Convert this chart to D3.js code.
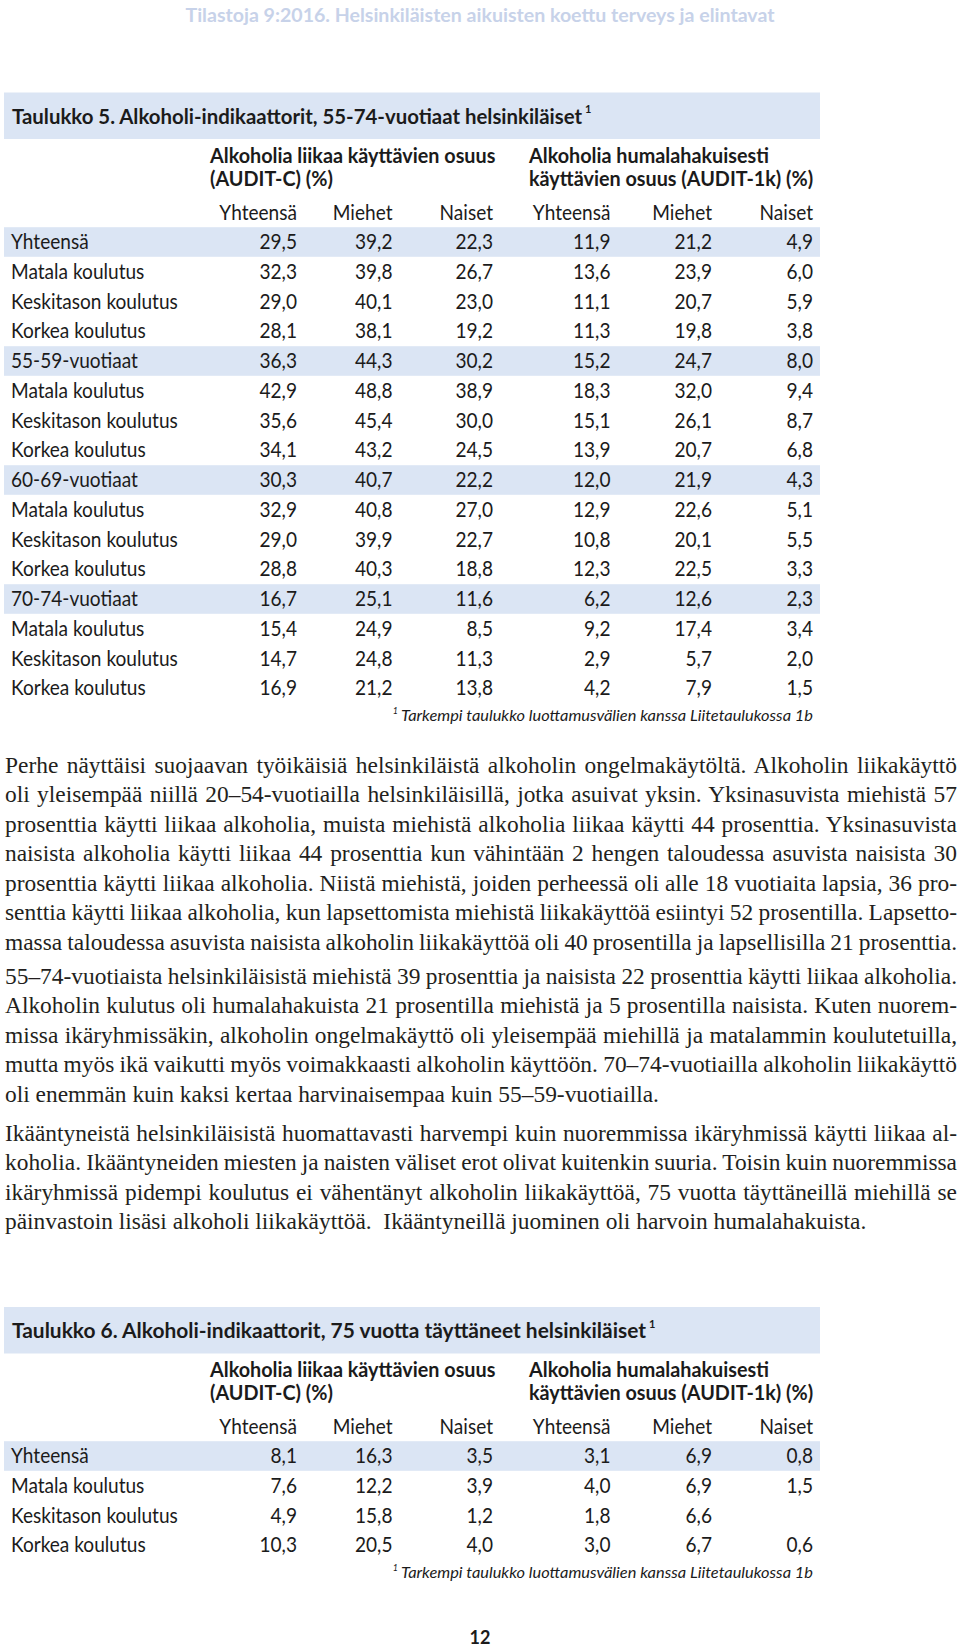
<!DOCTYPE html>
<html><head><meta charset="utf-8">
<script src="https://cdn.jsdelivr.net/npm/d3@7/dist/d3.min.js"></script>
<style>
html,body{margin:0;padding:0;background:#fff;}
svg{display:block;}
text{white-space:pre;}
</style></head>
<body>
<div id="chart"></div>
<script>
// ---------------- DATA ----------------
const pageHeader = "Tilastoja 9:2016. Helsinkiläisten aikuisten koettu terveys ja elintavat";
const groupHeaderC = ["Alkoholia liikaa käyttävien osuus", "(AUDIT-C) (%)"];
const groupHeader1k = ["Alkoholia humalahakuisesti", "käyttävien osuus (AUDIT-1k) (%)"];
const subHeaders = ["Yhteensä", "Miehet", "Naiset", "Yhteensä", "Miehet", "Naiset"];
const footnote = "Tarkempi taulukko luottamusvälien kanssa Liitetaulukossa 1b";

const t5Title = "Taulukko 5. Alkoholi-indikaattorit, 55-74-vuotiaat helsinkiläiset";
const t5Rows = ["Yhteensä","Matala koulutus","Keskitason koulutus","Korkea koulutus",
  "55-59-vuotiaat","Matala koulutus","Keskitason koulutus","Korkea koulutus",
  "60-69-vuotiaat","Matala koulutus","Keskitason koulutus","Korkea koulutus",
  "70-74-vuotiaat","Matala koulutus","Keskitason koulutus","Korkea koulutus"];
const t5Highlight = [0, 4, 8, 12];
const t5AuditCTotal = [29.5,32.3,29.0,28.1,36.3,42.9,35.6,34.1,30.3,32.9,29.0,28.8,16.7,15.4,14.7,16.9];
const t5AuditCMen   = [39.2,39.8,40.1,38.1,44.3,48.8,45.4,43.2,40.7,40.8,39.9,40.3,25.1,24.9,24.8,21.2];
const t5AuditCWomen = [22.3,26.7,23.0,19.2,30.2,38.9,30.0,24.5,22.2,27.0,22.7,18.8,11.6,8.5,11.3,13.8];
const t5Audit1kTotal = [11.9,13.6,11.1,11.3,15.2,18.3,15.1,13.9,12.0,12.9,10.8,12.3,6.2,9.2,2.9,4.2];
const t5Audit1kMen   = [21.2,23.9,20.7,19.8,24.7,32.0,26.1,20.7,21.9,22.6,20.1,22.5,12.6,17.4,5.7,7.9];
const t5Audit1kWomen = [4.9,6.0,5.9,3.8,8.0,9.4,8.7,6.8,4.3,5.1,5.5,3.3,2.3,3.4,2.0,1.5];

const t6Title = "Taulukko 6. Alkoholi-indikaattorit, 75 vuotta täyttäneet helsinkiläiset";
const t6Rows = ["Yhteensä","Matala koulutus","Keskitason koulutus","Korkea koulutus"];
const t6Highlight = [0];
const t6AuditCTotal = [8.1,7.6,4.9,10.3];
const t6AuditCMen   = [16.3,12.2,15.8,20.5];
const t6AuditCWomen = [3.5,3.9,1.2,4.0];
const t6Audit1kTotal = [3.1,4.0,1.8,3.0];
const t6Audit1kMen   = [6.9,6.9,6.6,6.7];
const t6Audit1kWomen = [0.8,1.5,null,0.6];

const paragraph1 = [
"Perhe näyttäisi suojaavan työikäisiä helsinkiläistä alkoholin ongelmakäytöltä. Alkoholin liikakäyttö",
"oli yleisempää niillä 20–54-vuotiailla helsinkiläisillä, jotka asuivat yksin. Yksinasuvista miehistä 57",
"prosenttia käytti liikaa alkoholia, muista miehistä alkoholia liikaa käytti 44 prosenttia. Yksinasuvista",
"naisista alkoholia käytti liikaa 44 prosenttia kun vähintään 2 hengen taloudessa asuvista naisista 30",
"prosenttia käytti liikaa alkoholia. Niistä miehistä, joiden perheessä oli alle 18 vuotiaita lapsia, 36 pro-",
"senttia käytti liikaa alkoholia, kun lapsettomista miehistä liikakäyttöä esiintyi 52 prosentilla. Lapsetto-",
"massa taloudessa asuvista naisista alkoholin liikakäyttöä oli 40 prosentilla ja lapsellisilla 21 prosenttia."
];
const paragraph2 = [
"55–74-vuotiaista helsinkiläisistä miehistä 39 prosenttia ja naisista 22 prosenttia käytti liikaa alkoholia.",
"Alkoholin kulutus oli humalahakuista 21 prosentilla miehistä ja 5 prosentilla naisista. Kuten nuorem-",
"missa ikäryhmissäkin, alkoholin ongelmakäyttö oli yleisempää miehillä ja matalammin koulutetuilla,",
"mutta myös ikä vaikutti myös voimakkaasti alkoholin käyttöön. 70–74-vuotiailla alkoholin liikakäyttö",
"oli enemmän kuin kaksi kertaa harvinaisempaa kuin 55–59-vuotiailla."
];
const paragraph3 = [
"Ikääntyneistä helsinkiläisistä huomattavasti harvempi kuin nuoremmissa ikäryhmissä käytti liikaa al-",
"koholia. Ikääntyneiden miesten ja naisten väliset erot olivat kuitenkin suuria. Toisin kuin nuoremmissa",
"ikäryhmissä pidempi koulutus ei vähentänyt alkoholin liikakäyttöä, 75 vuotta täyttäneillä miehillä se",
"päinvastoin lisäsi alkoholi liikakäyttöä.  Ikääntyneillä juominen oli harvoin humalahakuista."
];
const pageNumber = "12";

// ---------------- RENDER ----------------
const W = 960, H = 1649;
const BAND = "#dbe5f4";
const INK = "#1b1b1b";
const SANS = "Lato, 'Open Sans', sans-serif";
const SERIF = "'Liberation Serif', 'DejaVu Serif', serif";
const FS = 20.5;
const fi = d3.formatLocale({decimal: ",", thousands: " ", grouping: [3], currency: ["", ""]});
const fmt = v => (v == null ? "" : fi.format(".1f")(v));

const svg = d3.select("#chart").append("svg").attr("width", W).attr("height", H)
  .attr("viewBox", `0 0 ${W} ${H}`);

// horizontal compression to mimic the narrow original sans face
const SQUEEZE = 0.93;
function squeeze(sel, k) {
  sel.each(function () {
    const n = this.getComputedTextLength();
    if (n > 0) d3.select(this).attr("textLength", n * (k || SQUEEZE)).attr("lengthAdjust", "spacingAndGlyphs");
  });
}

// page header
svg.append("text").attr("x", 480).attr("y", 15).attr("dy", "0.35em")
  .attr("text-anchor", "middle").attr("font-family", SANS).attr("font-weight", 700)
  .attr("font-size", 19).attr("fill", "#c7d2e9").text(pageHeader)
  .call(s => s.attr("textLength", 589).attr("lengthAdjust", "spacingAndGlyphs"));

const colKeys = ["cT", "cM", "cW", "kT", "kM", "kW"];
const colX = d3.scaleOrdinal().domain(colKeys).range([297, 392.5, 493, 610.5, 712, 813]);

function drawTable(o) {
  const g = svg.append("g");
  // title band
  g.append("rect").attr("x", 4).attr("y", o.bandTop).attr("width", 816).attr("height", 46.5).attr("fill", BAND);
  g.append("text").attr("x", 12).attr("y", o.bandTop + 24).attr("dy", "0.35em")
    .attr("font-family", SANS).attr("font-weight", 700).attr("font-size", FS).attr("fill", INK)
    .text(o.title).call(s => s.attr("textLength", o.titleW).attr("lengthAdjust", "spacingAndGlyphs"));
  g.append("text").attr("x", 12 + o.titleW + 3).attr("y", o.bandTop + 17).attr("dy", "0.35em")
    .attr("font-family", SANS).attr("font-weight", 700).attr("font-size", 11).attr("fill", INK).text("1");

  // group headers
  const gh = [[groupHeaderC, 210], [groupHeader1k, 529]];
  gh.forEach(([lines, x]) => {
    lines.forEach((l, i) => {
      g.append("text").attr("x", x).attr("y", o.headTop + i * 23).attr("dy", "0.35em")
        .attr("font-family", SANS).attr("font-weight", 700).attr("font-size", FS).attr("fill", INK)
        .text(l).call(squeeze, 0.965);
    });
  });
  // sub headers
  g.selectAll(".sh").data(subHeaders).join("text")
    .attr("x", (d, i) => colX(colKeys[i])).attr("y", o.subY).attr("dy", "0.35em")
    .attr("text-anchor", "end").attr("font-family", SANS).attr("font-size", FS).attr("fill", INK)
    .text(d => d).call(squeeze);

  // rows
  const y = d3.scalePoint().domain(d3.range(o.rows.length)).range([o.rowTop, o.rowTop + (o.rows.length - 1) * 29.75]);
  g.selectAll(".band").data(o.highlight).join("rect")
    .attr("x", 4).attr("y", d => y(d) - 14.8).attr("width", 816).attr("height", 29.6).attr("fill", BAND);
  g.selectAll(".lab").data(o.rows).join("text")
    .attr("x", 11).attr("y", (d, i) => y(i)).attr("dy", "0.35em")
    .attr("font-family", SANS).attr("font-size", FS).attr("fill", INK).text(d => d).call(squeeze);
  colKeys.forEach((k, ci) => {
    g.selectAll(".v" + k).data(o.cols[ci]).join("text")
      .attr("x", colX(k)).attr("y", (d, i) => y(i)).attr("dy", "0.35em")
      .attr("text-anchor", "end").attr("font-family", SANS).attr("font-size", FS).attr("fill", INK)
      .text(d => fmt(d)).call(squeeze);
  });
  // footnote
  g.append("text").attr("x", 813).attr("y", o.footY).attr("dy", "0.35em")
    .attr("text-anchor", "end").attr("font-family", SANS).attr("font-style", "italic")
    .attr("font-size", 15).attr("fill", INK).text(footnote)
    .call(s => s.attr("textLength", 412).attr("lengthAdjust", "spacingAndGlyphs"));
  g.append("text").attr("x", 813 - 412 - 3).attr("y", o.footY - 5).attr("dy", "0.35em")
    .attr("text-anchor", "end").attr("font-family", SANS).attr("font-style", "italic")
    .attr("font-size", 9).attr("fill", INK).text("1");
}

drawTable({
  title: t5Title, titleW: 570, bandTop: 92.5, headTop: 156, subY: 212.5, rowTop: 242,
  rows: t5Rows, highlight: t5Highlight, footY: 716,
  cols: [t5AuditCTotal, t5AuditCMen, t5AuditCWomen, t5Audit1kTotal, t5Audit1kMen, t5Audit1kWomen]
});
drawTable({
  title: t6Title, titleW: 634, bandTop: 1307, headTop: 1369.5, subY: 1427, rowTop: 1456,
  rows: t6Rows, highlight: t6Highlight, footY: 1573,
  cols: [t6AuditCTotal, t6AuditCMen, t6AuditCWomen, t6Audit1kTotal, t6Audit1kMen, t6Audit1kWomen]
});

// body paragraphs, justified
const LEFT = 5, RIGHT = 957;
const bodySize = (function () {
  const probe = svg.append("text").attr("font-family", SERIF).attr("font-size", 20)
    .text(paragraph2[paragraph2.length - 1]);
  const w = probe.node().getComputedTextLength();
  probe.remove();
  return 20 * 654 / w;
})();
function drawParagraph(lines, top, justifyLast) {
  lines.forEach((l, i) => {
    const t = svg.append("text").attr("x", LEFT).attr("y", top + i * 29.5).attr("dy", "0.35em")
      .attr("font-family", SERIF).attr("font-size", bodySize).attr("fill", "#231f20").text(l);
    const isLast = i === lines.length - 1;
    if (!isLast || justifyLast) {
      const w = t.node().getComputedTextLength();
      const spaces = (l.match(/ /g) || []).length;
      if (spaces) t.attr("word-spacing", (RIGHT - LEFT - w) / spaces);
    }
  });
}
drawParagraph(paragraph1, 764.5, true);
drawParagraph(paragraph2, 975.5, false);
drawParagraph(paragraph3, 1132.5, false);

svg.append("text").attr("x", 480).attr("y", 1638).attr("dy", "0.35em").attr("text-anchor", "middle")
  .attr("font-family", SANS).attr("font-weight", 700).attr("font-size", 18).attr("fill", INK).text(pageNumber);
</script>
</body></html>
